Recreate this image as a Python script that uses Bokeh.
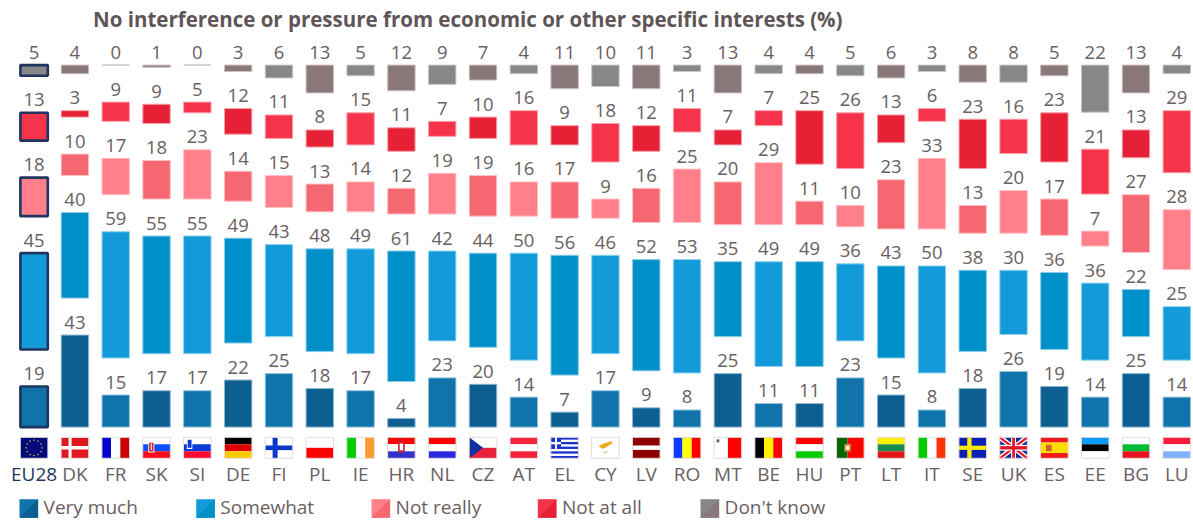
import math
from bokeh.plotting import figure
from bokeh.models import ColumnDataSource, Range1d, LinearAxis, FixedTicker
from bokeh.core.properties import value
from bokeh.embed import file_html
from bokeh.resources import INLINE

countries = ["EU28","DK","FR","SK","SI","DE","FI","PL","IE","HR","NL","CZ","AT","EL","CY","LV","RO","MT","BE","HU","PT","LT","IT","SE","UK","ES","EE","BG","LU"]
very_much = [19,43,15,17,17,22,25,18,17,4,23,20,14,7,17,9,8,25,11,11,23,15,8,18,26,19,14,25,14]
somewhat = [45,40,59,55,55,49,43,48,49,61,42,44,50,56,46,52,53,35,49,49,36,43,50,38,30,36,36,22,25]
not_really = [18,10,17,18,23,14,15,13,14,12,19,19,16,17,9,16,25,20,29,11,10,23,33,13,20,17,7,27,28]
not_at_all = [13,3,9,9,5,12,11,8,15,11,7,10,16,9,18,12,11,7,7,25,26,13,6,23,16,23,21,13,29]
dont_know = [5,4,0,1,0,3,6,13,5,12,9,7,4,11,10,11,3,13,4,4,5,6,3,8,8,5,22,13,4]
series_names = ["Very much","Somewhat","Not really","Not at all","Don't know"]
series_values = [very_much, somewhat, not_really, not_at_all, dont_know]
title_text = "No interference or pressure from economic or other specific interests  (%)"

light = ["#1074ab","#129bd8","#ff808a","#f5334a","#878787"]
dark  = ["#0d5f91","#0090c9","#f66871","#e62135","#8a7779"]
edge_l = ["#8fc0dc","#90d0ee","#ffc0c5","#fba0aa","#c6c6c6"]
edge_d = ["#8bb5cf","#8bcbe6","#fbc0c4","#f5a0a8","#c8bfc0"]
NAVY = "#1f3560"
TXT = "#6a6063"
FONT = "Open Sans"

W, H = 1193, 520
TITLE_T = 34          # height of the title panel
UNIT = 2.14           # px per percent
BASE = 426.6          # page y of the zero line
STEP = 40.81          # px per country
X0 = 33.6             # page x of first country
GAP = 37.0 / UNIT

def X(px): return (px - X0) / STEP
def Y(py): return (BASE - py) / UNIT

p = figure(width=W, height=H, output_backend="svg", toolbar_location=None,
           x_axis_type=None, y_axis_type=None,
           x_range=Range1d(X(0), X(W)),
           y_range=Range1d(Y(H), Y(TITLE_T)),
           min_border=0, min_border_left=0, min_border_right=0, min_border_top=0, min_border_bottom=0,
           outline_line_color=None, background_fill_color="white", border_fill_color="white")
p.grid.visible = False
p.title.text = title_text
p.title.text_font = FONT
p.title.text_font_style = "bold"
p.title.text_font_size = "20.5px"
p.title.text_color = "#5f5558"
p.title.align = "left"
p.title.offset = 92.5
p.title.standoff = 4

# bars
n = len(countries)
xs = list(range(n))
bottom = [0.0] * n
for s, vals in enumerate(series_values):
    tops = [b + v for b, v in zip(bottom, vals)]
    fills = [light[s] if i % 2 == 0 else dark[s] for i in xs]
    lines = [NAVY if i == 0 else (edge_l[s] if i % 2 == 0 else edge_d[s]) for i in xs]
    widths = [2.6 if i == 0 else 1 for i in xs]
    src = ColumnDataSource(dict(x=xs, bottom=bottom, top=tops, fill=fills, line=lines, lw=widths, v=[str(v) for v in vals]))
    p.vbar(x="x", bottom="bottom", top="top", width=27.4 / STEP, source=src,
           fill_color="fill", line_color="line", line_width="lw")
    p.text(x="x", y="top", text="v", source=src, text_align="center", text_baseline="middle",
           y_offset=-13, text_font=value(FONT), text_font_size="18.5px", text_color=TXT)
    bottom = [t + GAP for t in tops]

# tick labels
ax_y = Y(452)
for ticks, col in (([0], NAVY), (xs[1:], TXT)):
    ax = LinearAxis(ticker=FixedTicker(ticks=ticks),
                    major_label_overrides={i: countries[i] for i in ticks},
                    fixed_location=ax_y, axis_line_color=None,
                    major_tick_line_color=None, minor_tick_line_color=None,
                    major_label_standoff=2, major_label_text_font=FONT,
                    major_label_text_font_size="19px", major_label_text_color=col)
    p.add_layout(ax, "below")

# flags: shapes in unit coordinates of a flag, y going down
def R(a, b, c, d, col): return ([a, c, c, a], [b, b, d, d], col)
def HS(*cols, ws=None):
    ws = ws or [1 / len(cols)] * len(cols)
    out, y = [], 0
    for c, w in zip(cols, ws):
        out.append(R(0, y, 1, y + w, c)); y += w
    return out
def VS(*cols, ws=None):
    ws = ws or [1 / len(cols)] * len(cols)
    out, x = [], 0
    for c, w in zip(cols, ws):
        out.append(R(x, 0, x + w, 1, c)); x += w
    return out
def band(x0, y0, x1, y1, t, col):
    dx, dy = x1 - x0, (y1 - y0)
    L = math.hypot(dx * 1.3, dy)
    nx, ny = -dy / L * t, dx * 1.3 / L * t * 1.3
    return ([x0 + nx, x1 + nx, x1 - nx, x0 - nx], [y0 + ny, y1 + ny, y1 - ny, y0 - ny], col)

eu = [R(0, 0, 1, 1, "#000a7a")]
for k in range(12):
    a = k * math.pi / 6
    eu.append(R(.5 + .29 * math.cos(a) - .025, .5 + .37 * math.sin(a) - .03, .5 + .29 * math.cos(a) + .025, .5 + .37 * math.sin(a) + .03, "#d8c820"))
uk = [R(0, 0, 1, 1, "#0c2a9a"), band(0, 0, 1, 1, .09, "#ffffff"), band(0, 1, 1, 0, .09, "#ffffff"),
      band(0, 0, 1, 1, .04, "#e8142a"), band(0, 1, 1, 0, .04, "#e8142a"),
      R(.41, 0, .59, 1, "#ffffff"), R(0, .36, 1, .64, "#ffffff"), R(.45, 0, .55, 1, "#e8142a"), R(0, .42, 1, .58, "#e8142a")]
el = [R(0, 0, 1, 1, "#ffffff")] + [R(0, k * 2 / 9, 1, (k * 2 + 1) / 9, "#1a33cc") for k in range(5)] + \
     [R(0, 0, .37, 5 / 9, "#1a33cc"), R(.15, 0, .22, 5 / 9, "#ffffff"), R(0, 2 / 9, .37, 3 / 9, "#ffffff")]
flags = {
 "EU28": eu,
 "DK": [R(0, 0, 1, 1, "#ffffff"), R(0, .02, .27, .42, "#e0181f"), R(.38, .02, 1, .42, "#e0181f"), R(0, .58, .27, .98, "#e0181f"), R(.38, .58, 1, .98, "#e0181f")],
 "FR": VS("#0000cc", "#ffffff", "#cc0000"),
 "SK": HS("#ffffff", "#0a50ff", "#ff0a1e") + [R(.2, .22, .42, .72, "#ffffff"), R(.23, .26, .39, .68, "#e0182a"), R(.29, .3, .33, .6, "#ffffff")],
 "SI": HS("#ffffff", "#0a3ad8", "#ff0a30") + [R(.12, .08, .32, .56, "#ffffff"), R(.15, .12, .29, .5, "#0a3ad8")],
 "DE": HS("#000000", "#e00000", "#ffcc00"),
 "FI": [R(0, 0, 1, 1, "#ffffff"), R(.27, 0, .45, 1, "#0a37c8"), R(0, .39, 1, .61, "#0a37c8")],
 "PL": HS("#ffffff", "#ff0000"),
 "IE": VS("#00cc00", "#ffffff", "#ff9933"),
 "HR": HS("#ff0000", "#ffffff", "#3333cc") + [R(.38, .2, .62, .72, "#c8283c"), R(.44, .3, .56, .62, "#ffffff")],
 "NL": HS("#ff0000", "#ffffff", "#2a2ae0"),
 "CZ": HS("#ffffff", "#e8203a") + [([0, .5, 0], [0, .5, 1], "#1030a0")],
 "AT": HS("#f5243c", "#ffffff", "#f5243c"),
 "EL": el,
 "CY": [R(0, 0, 1, 1, "#ffffff"), ([.25, .45, .72, .75, .5, .38], [.42, .3, .18, .28, .5, .55], "#f0a820"),
        ([.38, .5, .62, .5], [.62, .72, .62, .78], "#88c060")],
 "LV": HS("#8f0000", "#ffffff", "#8f0000", ws=[.4, .2, .4]),
 "RO": VS("#0a3cff", "#ffff00", "#ff0000"),
 "MT": VS("#ffffff", "#ff0000", ws=[.5, .5]) + [R(.09, .1, .19, .24, "#666666")],
 "BE": VS("#000000", "#ffee00", "#ff0000"),
 "HU": HS("#ff0000", "#ffffff", "#00cc00"),
 "PT": VS("#006600", "#ff0000", ws=[.4, .6]) + [R(.28, .32, .52, .68, "#c89030"), R(.34, .4, .46, .6, "#ffffff")],
 "LT": HS("#ffee00", "#1a8c50", "#e01818"),
 "IT": VS("#00cc00", "#ffffff", "#ff3300"),
 "SE": [R(0, 0, 1, 1, "#0a1fb8"), R(.3, 0, .46, 1, "#ffee00"), R(0, .4, 1, .6, "#ffee00")],
 "UK": uk,
 "ES": HS("#f01818", "#ffdd00", "#f01818", ws=[.25, .5, .25]) + [R(.2, .36, .4, .66, "#d06020")],
 "EE": HS("#0a99ff", "#000000", "#ffffff"),
 "BG": HS("#ffffff", "#00bb33", "#e8141e"),
 "LU": HS("#ff1a3c", "#ffffff", "#80b0ff"),
}
FW, FH, FT = 27.6, 21.0, 436.8
px, py, pc = [], [], []
for i, c in enumerate(countries):
    for fx, fy, col in flags[c]:
        px.append([i + (v - .5) * FW / STEP for v in fx])
        py.append([Y(FT + v * FH) for v in fy])
        pc.append(col)
p.patches(px, py, fill_color=pc, line_color=None)
bx = [[i - .5 * FW / STEP, i + .5 * FW / STEP, i + .5 * FW / STEP, i - .5 * FW / STEP] for i in xs]
by = [[Y(FT), Y(FT), Y(FT + FH), Y(FT + FH)] for i in xs]
p.patches(bx, by, fill_color=None, line_color="#e2dcdc", line_width=1)

# legend
leg_px = [19.0, 195.7, 371.0, 537.3, 700.0]
SW = 18.6
top_px, bot_px = 498.7, 517.2
for s, name in enumerate(series_names):
    a, b = X(leg_px[s]), X(leg_px[s] + SW)
    t, u = Y(top_px), Y(bot_px)
    p.patches([[a, b, b, a], [b, b, a]], [[t, t, u, u], [t, u, u]], fill_color=[light[s], dark[s]], line_color=None)
    p.text(x=[X(leg_px[s] + SW + 5.5)], y=[Y(506.9)], text=[name], text_baseline="middle", text_align="left",
           text_font=value(FONT), text_font_size="19px", text_color=TXT)

open("out.html", "w").write(file_html(p, INLINE))
